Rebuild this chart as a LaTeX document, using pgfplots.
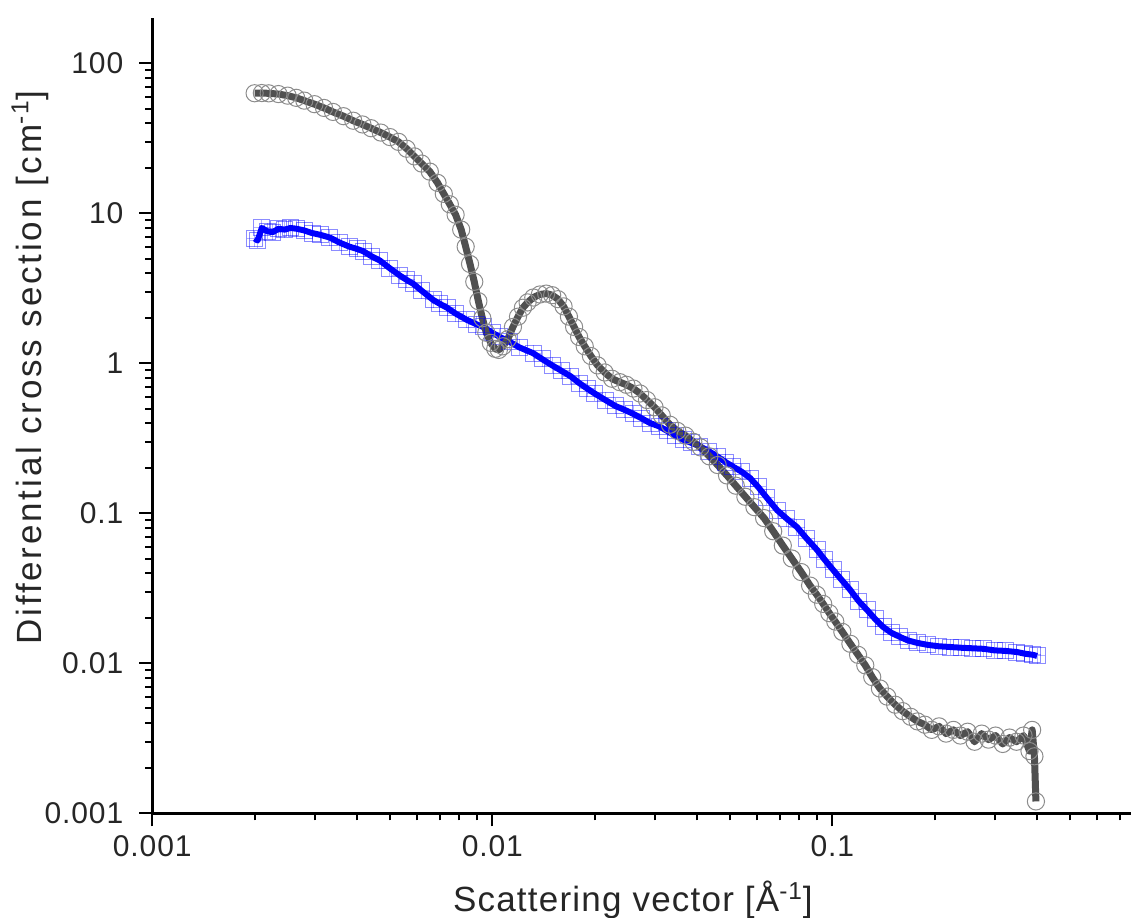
\documentclass[border=0pt]{standalone}
\usepackage{fontspec}
\setmainfont{Liberation Sans}
\usepackage{pgfplots}
\pgfplotsset{compat=1.18}
\usepackage{pgfplotstable}

\definecolor{fitgray}{RGB}{80,80,80}
\definecolor{markgray}{RGB}{140,140,140}
\definecolor{pureblue}{RGB}{0,0,255}

\pgfplotstableread{
q I
0.00200 63.3
0.00210 63.5
0.00220 63.2
0.00235 62.5
0.00250 61.0
0.00265 59.0
0.00280 56.5
0.00300 53.5
0.00320 50.5
0.00340 47.5
0.00365 44.5
0.00390 41.5
0.00415 39.2
0.00440 37.0
0.00470 34.6
0.00500 32.3
0.00530 30.0
0.00560 27.0
0.00590 24.0
0.00620 21.5
0.00655 19.0
0.00690 16.0
0.00720 13.5
0.00750 11.5
0.00780 9.8
0.00810 7.8
0.00835 6.0
0.00860 4.6
0.00885 3.5
0.00910 2.6
0.00935 2.0
0.00960 1.6
0.00990 1.37
0.01020 1.25
0.01045 1.23
0.01075 1.30
0.01110 1.45
0.01150 1.75
0.01190 2.05
0.01230 2.35
0.01270 2.55
0.01320 2.75
0.01380 2.88
0.01440 2.92
0.01500 2.85
0.01560 2.68
0.01620 2.40
0.01680 2.05
0.01740 1.75
0.01800 1.50
0.01870 1.30
0.01950 1.12
0.02040 0.97
0.02140 0.87
0.02250 0.79
0.02370 0.75
0.02480 0.72
0.02600 0.68
0.02720 0.63
0.02850 0.57
0.03000 0.51
0.03150 0.45
0.03330 0.39
0.03500 0.355
0.03700 0.33
0.03900 0.30
0.04100 0.275
0.04350 0.24
0.04600 0.21
0.04900 0.179
0.05200 0.153
0.05550 0.129
0.05900 0.110
0.06300 0.093
0.06700 0.076
0.07150 0.061
0.07600 0.050
0.08100 0.0406
0.08600 0.033
0.09000 0.0287
0.09400 0.0249
0.09800 0.0216
0.10200 0.0190
0.10700 0.0162
0.11300 0.0135
0.11900 0.0114
0.12500 0.0097
0.13100 0.0081
0.13800 0.0068
0.14500 0.0060
0.15300 0.0053
0.16100 0.0048
0.17000 0.0044
0.17800 0.0041
0.18700 0.0039
0.19600 0.0036
0.20600 0.0038
0.21600 0.0034
0.22700 0.0036
0.23800 0.0033
0.25000 0.0035
0.26200 0.0030
0.27500 0.0034
0.28800 0.0031
0.30200 0.0033
0.31700 0.0029
0.33200 0.0032
0.34800 0.0030
0.36500 0.0033
0.38000 0.0026
0.38700 0.0036
0.39300 0.0024
0.39700 0.0012
}\graydata

\pgfplotstableread{
q I
0.00200 6.8
0.00204 6.6
0.00210 8.0
0.00218 7.6
0.00226 7.5
0.00235 7.9
0.00245 7.8
0.00255 8.0
0.00266 7.9
0.00280 7.7
0.00295 7.4
0.00312 7.2
0.00333 6.9
0.00355 6.4
0.00380 6.0
0.00400 5.8
0.00417 5.6
0.00440 5.2
0.00467 4.85
0.00500 4.3
0.00535 3.85
0.00560 3.6
0.00585 3.4
0.00620 3.05
0.00670 2.65
0.00700 2.5
0.00736 2.35
0.00780 2.15
0.00842 1.95
0.00900 1.82
0.00940 1.75
0.01000 1.60
0.01053 1.50
0.01120 1.40
0.01200 1.28
0.01318 1.17
0.01400 1.07
0.01500 0.97
0.01600 0.89
0.01700 0.82
0.01800 0.74
0.01900 0.68
0.02000 0.63
0.02150 0.57
0.02300 0.52
0.02450 0.49
0.02600 0.46
0.02750 0.43
0.02910 0.40
0.03100 0.38
0.03265 0.355
0.03450 0.33
0.03640 0.31
0.03850 0.295
0.04080 0.28
0.04330 0.26
0.04580 0.24
0.04850 0.22
0.05100 0.205
0.05400 0.19
0.05730 0.172
0.06050 0.150
0.06400 0.128
0.06880 0.105
0.07350 0.092
0.07870 0.081
0.08400 0.068
0.09020 0.057
0.09500 0.049
0.10050 0.042
0.10650 0.036
0.11270 0.031
0.11950 0.026
0.12650 0.0227
0.13350 0.0198
0.14100 0.0175
0.14900 0.0160
0.15800 0.0150
0.16700 0.0142
0.17750 0.0137
0.19000 0.0133
0.20500 0.0130
0.22200 0.01285
0.24000 0.0127
0.25800 0.0126
0.27800 0.0125
0.30000 0.0122
0.32300 0.0121
0.34900 0.0119
0.36800 0.0116
0.38900 0.0114
0.40000 0.0112
}\bluedata

\begin{document}
\begin{tikzpicture}
\path[use as bounding box] (-76.15pt,-51.85pt) rectangle (489.35pt,406.65pt);
\begin{axis}[
  at={(0,0)}, anchor=south west,
  scale only axis,
  width=489.35pt, height=397.5pt,
  xmode=log, ymode=log,
  xmin=0.001, xmax=0.7557,
  ymin=0.001, ymax=200,
  axis lines*=left,
  axis line style={line width=1.3pt},
  tick align=outside,
  major tick length=6.5pt,
  minor tick length=3.5pt,
  every tick/.style={black, line width=1pt},
  xtick={0.001,0.01,0.1},
  xticklabels={0.001,0.01,0.1},
  minor xtick={0.002,0.003,0.004,0.005,0.006,0.007,0.008,0.009,0.02,0.03,0.04,0.05,0.06,0.07,0.08,0.09,0.2,0.3,0.4,0.5,0.6,0.7},
  ytick={0.001,0.01,0.1,1,10,100},
  yticklabels={0.001,0.01,0.1,1,10,100},
  minor ytick={0.002,0.003,0.004,0.005,0.006,0.007,0.008,0.009,0.02,0.03,0.04,0.05,0.06,0.07,0.08,0.09,0.2,0.3,0.4,0.5,0.6,0.7,0.8,0.9,2,3,4,5,6,7,8,9,20,30,40,50,60,70,80,90},
  tick label style={font=\fontsize{15}{18}\selectfont\addfontfeatures{LetterSpace=3}, text=black!85},
  xticklabel style={yshift=-1pt},
  yticklabel style={xshift=-4.5pt},
  xlabel={Scattering vector [Å\textsuperscript{-1}]},
  ylabel={Differential cross section [cm\textsuperscript{-1}]},
  xlabel style={font=\fontsize{17.5}{20}\selectfont\addfontfeatures{LetterSpace=3.5}, text=black!85,
    at={(axis description cs:0.491,-0.109)}, anchor=center},
  ylabel style={font=\fontsize{17.5}{20}\selectfont\addfontfeatures{LetterSpace=8}, text=black!85,
    at={(axis description cs:-0.125,0.561)}, anchor=center},
]
\addplot[only marks, mark=square, mark size=4pt,
  mark options={draw=pureblue, draw opacity=0.45, line width=0.5pt, fill=none}]
  table[x=q, y=I] {\bluedata};
\addplot[only marks, mark=+, mark size=4pt,
  mark options={draw=pureblue, draw opacity=0.3, line width=0.5pt}]
  table[x=q, y=I] {\bluedata};
\addplot[pureblue, line width=3pt, line join=round, no marks]
  table[x=q, y=I] {\bluedata};
\addplot[only marks, mark=o, mark size=4.3pt,
  mark options={draw=markgray, line width=0.5pt, fill=white}]
  table[x=q, y=I] {\graydata};
\addplot[fitgray, line width=3.5pt, line join=round, no marks]
  table[x=q, y=I] {\graydata};
\end{axis}
\end{tikzpicture}
\end{document}
